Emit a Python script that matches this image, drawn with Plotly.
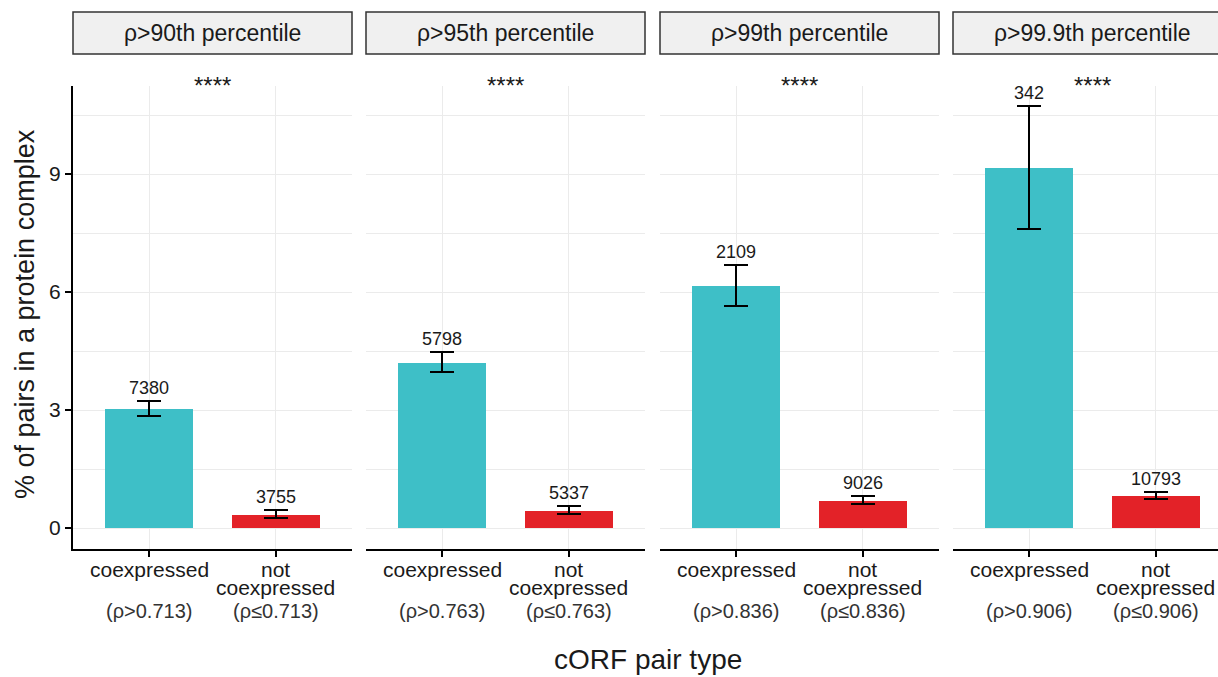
import plotly.graph_objects as go

# ---------------- data ----------------
facets = ["ρ>90th percentile", "ρ>95th percentile", "ρ>99th percentile", "ρ>99.9th percentile"]
thresholds = ["0.713", "0.763", "0.836", "0.906"]
categories = ["coexpressed", "not coexpressed"]
cat_pos = [1, 2]
coexp_pct = [3.03, 4.20, 6.16, 9.16]
coexp_lo = [2.85, 3.97, 5.65, 7.60]
coexp_hi = [3.24, 4.47, 6.69, 10.72]
notco_pct = [0.34, 0.44, 0.69, 0.82]
notco_lo = [0.26, 0.35, 0.61, 0.74]
notco_hi = [0.46, 0.56, 0.81, 0.92]
coexp_n = [7380, 5798, 2109, 342]
notco_n = [3755, 5337, 9026, 10793]
signif = ["****", "****", "****", "****"]
y_ticks = [0, 3, 6, 9]
y_minor = [1.5, 4.5, 7.5, 10.5]

# ---------------- style ----------------
TEAL = "#3EBFC7"
RED = "#E32228"
GRID = "#EBEBEB"
FONT = "Liberation Sans, Arial, sans-serif"
TXT = "#1a1a1a"

W, H = 1218, 677
L, T, B, R = 73, 86, 128, 0
PW, PH = W - L - R, H - T - B


def px_x(px):
    return (px - L) / PW


def px_y(py):
    return (H - B - py) / PH


panels_px = [(73, 352), (366, 645), (660, 939), (953, 1232)]
unit = (352 - 73) / 2.2
y_range = [-0.534, 11.24]

fig = go.Figure()
annotations = []
shapes = []

for i in range(4):
    ax = "" if i == 0 else str(i + 1)
    x0p, x1p = panels_px[i]
    dom = [px_x(x0p), min(1.0, px_x(x1p))]
    xr_hi = 0.4 + (min(x1p, W) - x0p) / unit
    vals = [coexp_pct[i], notco_pct[i]]
    hi = [coexp_hi[i], notco_hi[i]]
    lo = [coexp_lo[i], notco_lo[i]]
    fig.add_trace(go.Bar(
        x=cat_pos, y=vals, width=0.7,
        marker=dict(color=[TEAL, RED], line=dict(width=0)),
        error_y=dict(type="data", symmetric=False,
                     array=[h - v for h, v in zip(hi, vals)],
                     arrayminus=[v - l for v, l in zip(vals, lo)],
                     color="black", thickness=2, width=12),
        xaxis="x" + ax, yaxis="y" + ax, showlegend=False,
    ))
    fig.update_layout(**{
        "xaxis" + ax: dict(domain=dom, anchor="y" + ax, range=[0.4, xr_hi],
                           tickvals=cat_pos, showticklabels=False,
                           ticks="outside", ticklen=6, tickwidth=2, tickcolor="black",
                           showline=True, linewidth=2, linecolor="black",
                           showgrid=True, gridcolor=GRID, gridwidth=1, zeroline=False),
        "yaxis" + ax: dict(domain=[0, 1], anchor="x" + ax, range=y_range,
                           tickvals=y_ticks, showticklabels=(i == 0),
                           ticks="outside" if i == 0 else "", ticklen=6, tickwidth=2,
                           tickcolor="black",
                           tickfont=dict(size=21, color=TXT, family=FONT),
                           showline=(i == 0), linewidth=2, linecolor="black",
                           showgrid=True, gridcolor=GRID, gridwidth=1, zeroline=False,
                           minor=dict(tickmode="array", tickvals=y_minor, showgrid=True,
                                      gridcolor=GRID, gridwidth=1, ticks="")),
    })
    # strip
    shapes.append(dict(type="rect", xref="paper", yref="paper",
                       x0=px_x(x0p), x1=px_x(x1p), y0=px_y(54), y1=px_y(12),
                       fillcolor="#F0F0F0", line=dict(color="#333333", width=1.5)))
    annotations.append(dict(text=facets[i], xref="paper", yref="paper",
                            x=px_x((x0p + x1p) / 2), y=px_y(33),
                            xanchor="center", yanchor="middle", showarrow=False,
                            font=dict(size=23, color=TXT, family=FONT)))
    # significance
    annotations.append(dict(text=signif[i], xref="x" + ax, yref="paper",
                            x=1.5, y=px_y(85), xanchor="center", yanchor="middle",
                            showarrow=False, font=dict(size=24, color=TXT, family=FONT)))
    # counts
    for xv, h, n in zip(cat_pos, hi, [coexp_n[i], notco_n[i]]):
        annotations.append(dict(text=str(n), xref="x" + ax, yref="y" + ax,
                                x=xv, y=h, yshift=13, xanchor="center", yanchor="middle",
                                showarrow=False, font=dict(size=18, color=TXT, family=FONT)))
    # x category labels
    lab_lines = [
        (1, "coexpressed", 569, 21, TXT),
        (1, "(ρ>" + thresholds[i] + ")", 611, 20, "#333333"),
        (2, "not", 569, 21, TXT),
        (2, "coexpressed", 587, 21, TXT),
        (2, "(ρ≤" + thresholds[i] + ")", 611, 20, "#333333"),
    ]
    for xv, txt, ypx, fs, col in lab_lines:
        annotations.append(dict(text=txt, xref="x" + ax, yref="paper",
                                x=xv, y=px_y(ypx), xanchor="center", yanchor="middle",
                                showarrow=False, font=dict(size=fs, color=col, family=FONT)))

# axis titles
annotations.append(dict(text="cORF pair type", xref="paper", yref="paper",
                        x=px_x(648), y=px_y(659), xanchor="center", yanchor="middle",
                        showarrow=False, font=dict(size=28, color=TXT, family=FONT)))
annotations.append(dict(text="% of pairs in a protein complex", xref="paper", yref="paper",
                        x=px_x(25), y=px_y(314), xanchor="center", yanchor="middle",
                        textangle=-90, showarrow=False,
                        font=dict(size=27, color=TXT, family=FONT)))

fig.update_layout(
    width=W, height=H,
    margin=dict(l=L, r=R, t=T, b=B),
    paper_bgcolor="white", plot_bgcolor="white",
    font=dict(family=FONT, color=TXT),
    annotations=annotations, shapes=shapes,
    bargap=0,
)

fig.write_html("out.html")
